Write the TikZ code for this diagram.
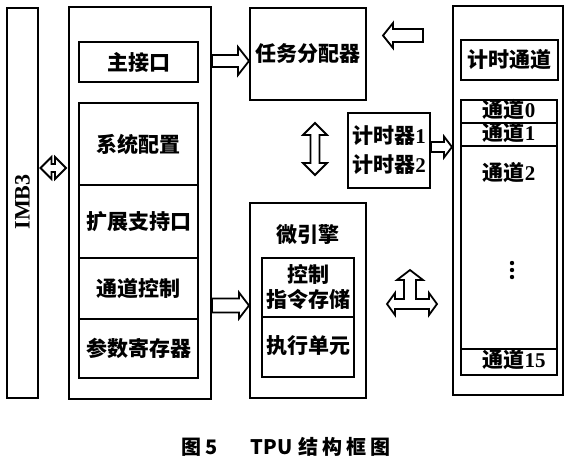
\documentclass[tikz,border=0pt]{standalone}
\usepackage{fontspec}
\setmainfont{Liberation Serif}
\newfontfamily\cjk{Noto Sans CJK SC}
\usetikzlibrary{calc}
\newcommand\zh[1]{{\cjk\bfseries #1}}
\newcommand\rarr[5]{%
  \draw[blk] let \p1=(#1), \p2=(#2) in
    (\x1,\y1+#3) -- (\x2-#5,\y1+#3) -- (\x2-#5,\y1+#4) -- (\x2,\y1)
    -- (\x2-#5,\y1-#4) -- (\x2-#5,\y1-#3) -- (\x1,\y1-#3) -- cycle;}
\newcommand\larr[5]{%
  \draw[blk] let \p1=(#1), \p2=(#2) in
    (\x1,\y1) -- (\x1+#5,\y1+#4) -- (\x1+#5,\y1+#3) -- (\x2,\y1+#3)
    -- (\x2,\y1-#3) -- (\x1+#5,\y1-#3) -- (\x1+#5,\y1-#4) -- cycle;}
\newcommand\hdarr[5]{%
  \draw[blk] let \p1=(#1), \p2=(#2) in
    (\x1,\y1) -- (\x1+#5,\y1+#4) -- (\x1+#5,\y1+#3) -- (\x2-#5,\y1+#3)
    -- (\x2-#5,\y1+#4) -- (\x2,\y1) -- (\x2-#5,\y1-#4) -- (\x2-#5,\y1-#3)
    -- (\x1+#5,\y1-#3) -- (\x1+#5,\y1-#4) -- cycle;}
\newcommand\vdarr[5]{%
  \draw[blk] let \p1=(#1), \p2=(#2) in
    (\x1,\y1) -- (\x1+#4,\y1-#5) -- (\x1+#3,\y1-#5) -- (\x1+#3,\y2+#5)
    -- (\x1+#4,\y2+#5) -- (\x1,\y2) -- (\x1-#4,\y2+#5) -- (\x1-#3,\y2+#5)
    -- (\x1-#3,\y1-#5) -- (\x1-#4,\y1-#5) -- cycle;}
\begin{document}
\begin{tikzpicture}[x=1pt,y=-1pt,
  box/.style={draw, line width=2pt, inner sep=0pt, align=center},
  txt/.style={font=\fontsize{21}{25}\selectfont\bfseries},
  small/.style={txt, text height=15pt, text depth=4pt},
  blk/.style={draw, line width=1.8pt, line join=miter, fill=white}]
\useasboundingbox (0,0) rectangle (576,464);

% IMB3 bus
\node[box, minimum width=31, minimum height=390] (imb) at (22.5,203) {};
\node[font=\fontsize{22}{26}\selectfont\bfseries, rotate=90] (imbt) at (22.5,202) {IMB3};

% left block
\node[box, minimum width=142, minimum height=392] (left) at (140,203) {};
\node[box, txt, minimum width=119, minimum height=40] (main) at (138.5,62) {\zh{主接口}};
\node[box, txt, minimum width=119, minimum height=82] (sys) at (138.5,144) {\zh{系统配置}};
\node[box, txt, minimum width=119, minimum height=73] (ext) at (138.5,221.5) {\zh{扩展支持口}};
\node[box, txt, minimum width=119, minimum height=61] (chc) at (138.5,288.5) {\zh{通道控制}};
\node[box, txt, minimum width=119, minimum height=59] (par) at (138.5,348.5) {\zh{参数寄存器}};

% task dispatcher
\node[box, txt, minimum width=116, minimum height=92] (task) at (308,54) {\raisebox{-3pt}{\zh{任务分配器}}};

% timers
\node[box, font=\fontsize{21}{29}\selectfont\bfseries, minimum width=82, minimum height=75] (timer) at (389,150.5) {\zh{计时器}1\\\zh{计时器}2};

% micro engine
\node[box, minimum width=116, minimum height=195] (micro) at (308,300.5) {};
\node[txt] (microt) at (308,235) {\zh{微引擎}};
\node[box, font=\fontsize{21}{25}\selectfont\bfseries, minimum width=92, minimum height=59] (ctrl) at (308,287.5) {\zh{控制}\\\zh{指令存储}};
\node[box, txt, minimum width=92, minimum height=60] (exec) at (308,347) {\raisebox{4pt}{\zh{执行单元}}};

% right block
\node[box, minimum width=110, minimum height=389] (right) at (508,200.5) {};
\node[box, txt, minimum width=97, minimum height=40] (timech) at (509.5,60) {\zh{计时通道}};
\node[box, small, minimum width=96, minimum height=23] (ch0) at (509,111.5) {\zh{通道}0};
\node[box, small, minimum width=96, minimum height=23] (ch1) at (509,134.5) {\zh{通道}1};
\node[box, minimum width=96, minimum height=203] (ch2) at (509,247.5) {};
\node[txt] (ch2t) at (509,173) {\zh{通道}2};
\node[box, small, minimum width=96, minimum height=26] (ch15) at (509,362) {\hspace*{10pt}\zh{通道}15};
\foreach \yy in {263,270,277} \fill (512,\yy) circle (2.2pt);

% connectors
\coordinate (yimb) at (0,168);
\coordinate (ym) at (0,61);
\coordinate (yt) at (0,147);
\coordinate (yc) at (0,305.5);
\coordinate (la) at (383,35.5);
\coordinate (lb) at (423,35.5);
\coordinate (va) at (315,123);
\coordinate (vb) at (315,175);

\hdarr{$(imb.east|-yimb)+(1.5,0)$}{$(left.west|-yimb)+(-2,0)$}{4pt}{11pt}{11pt}
\rarr{left.east|-ym}{task.west|-ym}{6pt}{14pt}{11pt}
\larr{la}{lb}{6.5pt}{12.5pt}{10pt}
\vdarr{va}{vb}{4.5pt}{12pt}{12pt}
\rarr{timer.east|-yt}{right.west|-yt}{5pt}{10.5pt}{8pt}
\rarr{left.east|-yc}{micro.west|-yc}{7pt}{13pt}{10pt}

% three-way arrow
\coordinate (tl) at (387,304);
\coordinate (tr) at (437,304);
\coordinate (tu) at (410,270);
\draw[blk] (tl) -- (395,293) -- (395,299) -- (404,299) -- (404,280) -- (397,280)
  -- (tu) -- (423,280) -- (416,280) -- (416,299) -- (429,299) -- (429,293)
  -- (tr) -- (429,315) -- (429,309) -- (395,309) -- (395,315) -- cycle;

% caption
\node[font=\cjk\bfseries\fontsize{20}{22}\selectfont] (cap) at (286,447)
  {图\hspace{4pt}5\hspace{33pt}TPU\hspace{6pt}结\hspace{4pt}构\hspace{4pt}框\hspace{4pt}图};
\end{tikzpicture}
\end{document}
